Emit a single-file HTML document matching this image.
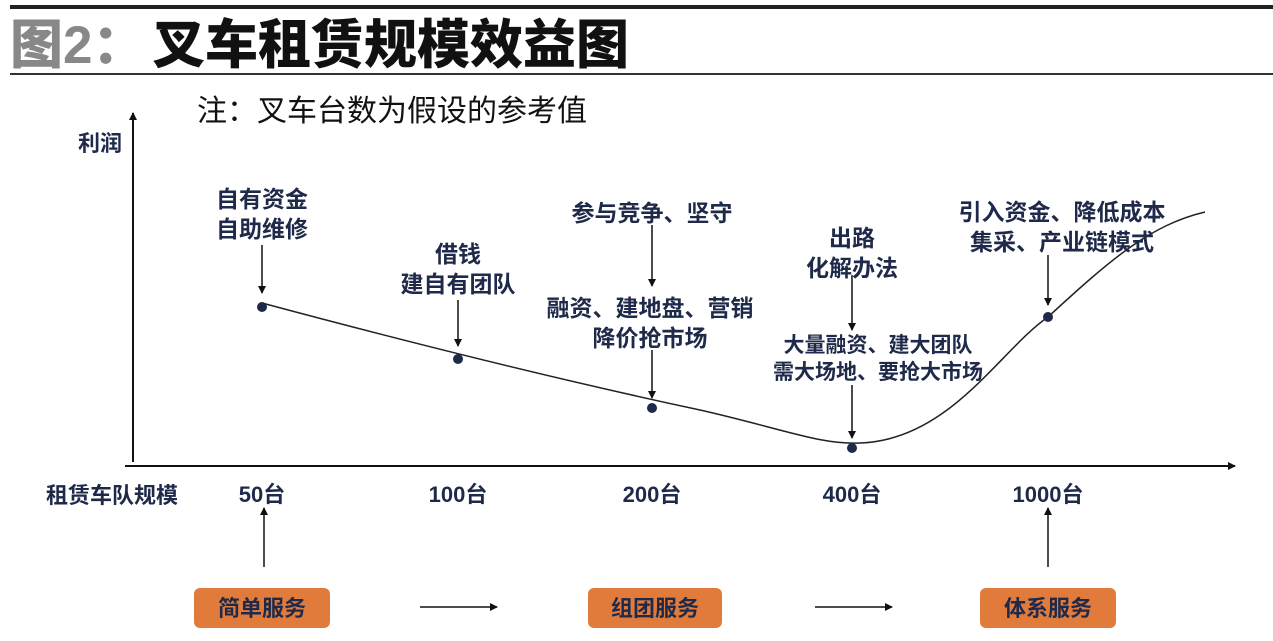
<!DOCTYPE html>
<html><head><meta charset="utf-8"><style>
body{margin:0;background:#fff;width:1273px;height:636px;overflow:hidden}
svg text{font-family:"Liberation Sans","Noto Sans CJK SC",sans-serif;font-weight:bold;fill:#1f2a4a}
</style></head><body>
<svg width="1273" height="636" viewBox="0 0 1273 636">
<defs><marker id="a" markerWidth="8" markerHeight="8" refX="7" refY="4" orient="auto" markerUnits="userSpaceOnUse"><path d="M0,0 L8,4 L0,8 z" fill="#111"/></marker></defs>
<rect x="10" y="5" width="1263" height="4" fill="#222"/>
<rect x="10" y="73" width="1263" height="2" fill="#333"/>
<text x="10" y="63" font-size="53" style="fill:#888;font-weight:900">图2：</text>
<text x="152" y="63" font-size="53" style="fill:#111;font-weight:900">叉车租赁规模效益图</text>
<text x="197" y="121" font-size="30" style="fill:#111;font-weight:normal">注：叉车台数为假设的参考值</text>
<line x1="133" y1="462" x2="133" y2="113" stroke="#111" stroke-width="2" marker-end="url(#a)"/>
<line x1="125" y1="466" x2="1235" y2="466" stroke="#111" stroke-width="2" marker-end="url(#a)"/>
<text x="100" y="151" font-size="22" text-anchor="middle">利润</text>
<text x="112" y="503" font-size="22" text-anchor="middle">租赁车队规模</text>
<g font-size="22" text-anchor="middle">
<text x="262" y="502">50台</text><text x="458" y="502">100台</text><text x="652" y="502">200台</text><text x="852" y="502">400台</text><text x="1048" y="502">1000台</text>
</g>
<path d="M262,303 C400,340 560,380 700,410 C780,428 820,445 860,443 C950,440 1000,350 1048,317 C1110,260 1150,225 1205,212" fill="none" stroke="#222" stroke-width="1.5"/>
<g fill="#1f2a4a"><circle cx="262" cy="307" r="5"/><circle cx="458" cy="359" r="5"/><circle cx="652" cy="408" r="5"/><circle cx="852" cy="448" r="5"/><circle cx="1048" cy="317" r="5"/></g>
<g stroke="#111" stroke-width="1.5" marker-end="url(#a)">
<line x1="262" y1="245" x2="262" y2="293"/>
<line x1="458" y1="300" x2="458" y2="346"/>
<line x1="652" y1="225" x2="652" y2="286"/>
<line x1="652" y1="350" x2="652" y2="398"/>
<line x1="852" y1="275" x2="852" y2="330"/>
<line x1="852" y1="385" x2="852" y2="438"/>
<line x1="1048" y1="255" x2="1048" y2="305"/>
<line x1="264" y1="567" x2="264" y2="508"/>
<line x1="1048" y1="567" x2="1048" y2="508"/>
<line x1="420" y1="607" x2="497" y2="607"/>
<line x1="815" y1="607" x2="892" y2="607"/>
</g>
<g font-size="23" text-anchor="middle">
<text x="262" y="207">自有资金</text><text x="262" y="237">自助维修</text>
<text x="458" y="262">借钱</text><text x="458" y="292">建自有团队</text>
<text x="652" y="221">参与竞争、坚守</text>
<text x="650" y="316">融资、建地盘、营销</text><text x="650" y="346">降价抢市场</text>
<text x="852" y="246">出路</text><text x="852" y="276">化解办法</text>
<text x="1062" y="220">引入资金、降低成本</text><text x="1062" y="250">集采、产业链模式</text>
</g>
<g font-size="21" text-anchor="middle">
<text x="878" y="352">大量融资、建大团队</text><text x="878" y="379">需大场地、要抢大市场</text>
</g>
<g fill="#e07b3c"><rect x="194" y="588" width="136" height="40" rx="6"/><rect x="588" y="588" width="134" height="40" rx="6"/><rect x="980" y="588" width="136" height="40" rx="6"/></g>
<g font-size="22" text-anchor="middle"><text x="262" y="616">简单服务</text><text x="655" y="616">组团服务</text><text x="1048" y="616">体系服务</text></g>
</svg>
</body></html>
